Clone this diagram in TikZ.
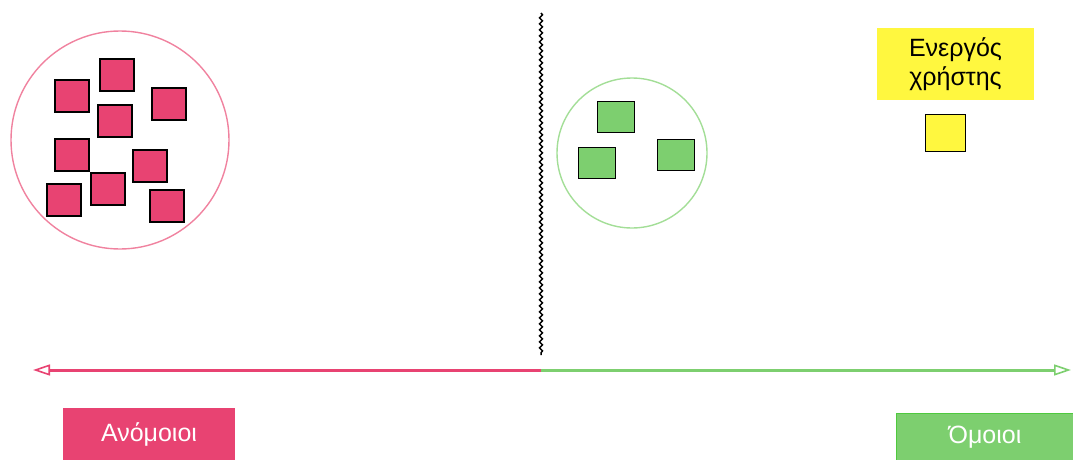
\documentclass[tikz,border=0pt]{standalone}
\usepackage{fontspec}
\setmainfont{Liberation Sans}
\usetikzlibrary{arrows.meta,decorations.pathmorphing}

\definecolor{dissimred}{HTML}{E84372}
\definecolor{dissimring}{HTML}{F0829F}
\definecolor{simgreen}{HTML}{7DCF6F}
\definecolor{simring}{HTML}{A3DE97}
\definecolor{simedge}{HTML}{4FC93E}
\definecolor{useryellow}{HTML}{FFF73F}

\begin{document}
\begin{tikzpicture}[x=1pt,y=-1pt,>=Latex]
  \tikzstyle{redsq}=[draw,line width=1.3pt,fill=dissimred,minimum width=34pt,minimum height=32pt,inner sep=0pt]
  \tikzstyle{greensq}=[draw,line width=1pt,fill=simgreen,minimum width=37pt,minimum height=31pt,inner sep=0pt]
  \tikzstyle{ring}=[draw,circle,line width=1.4pt,inner sep=0pt]
  \tikzstyle{scalelabel}=[minimum height=50pt,inner sep=0pt,text=white,font=\fontsize{25}{29}\selectfont]
  \tikzstyle{scalearrow}=[line width=3pt,-{Triangle[open,length=17pt,width=11pt,line width=1.6pt]}]

  \useasboundingbox (0,0) rectangle (1073,460);

  \node[ring,draw=dissimring,minimum size=218pt] (redring) at (120,140) {};
  \node[redsq] (r1) at (72,96) {};
  \node[redsq] (r2) at (117,75) {};
  \node[redsq] (r3) at (169,104) {};
  \node[redsq] (r4) at (115,121) {};
  \node[redsq] (r5) at (72,155) {};
  \node[redsq] (r6) at (150,166) {};
  \node[redsq] (r7) at (108,189) {};
  \node[redsq] (r8) at (64,200) {};
  \node[redsq] (r9) at (167,206) {};

  \node[ring,draw=simring,minimum size=150pt] (greenring) at (632,153) {};
  \node[greensq] (g1) at (616,117) {};
  \node[greensq] (g2) at (597,163) {};
  \node[greensq] (g3) at (676,155) {};

  \node[fill=useryellow,minimum width=157pt,minimum height=72pt,align=center,font=\fontsize{25}{29}\selectfont] (userlabel) at (955.5,64) {Ενεργός\\χρήστης};
  \node[draw,line width=1pt,fill=useryellow,minimum width=40pt,minimum height=37pt,inner sep=0pt] (user) at (945,133) {};

  \coordinate (divtop) at (541,13);
  \coordinate (divbot) at (541,355);
  \draw[line width=1.5pt,decorate,decoration={snake,amplitude=1.5pt,segment length=6pt}] (divtop) -- (divbot);

  \coordinate (mid) at (541,370);
  \coordinate (leftend) at (33,370);
  \coordinate (rightend) at (1071,370);
  \draw[scalearrow,dissimred] (mid) -- (leftend);
  \draw[scalearrow,simgreen] (mid) -- (rightend);

  \node[scalelabel,fill=dissimred,minimum width=172pt,minimum height=52pt] (dissim) at (149,434) {Ανόμοιοι};
  \node[scalelabel,draw=simedge,line width=1pt,fill=simgreen,minimum width=178pt,minimum height=47pt] (sim) at (985,437) {Όμοιοι};
\end{tikzpicture}
\end{document}
